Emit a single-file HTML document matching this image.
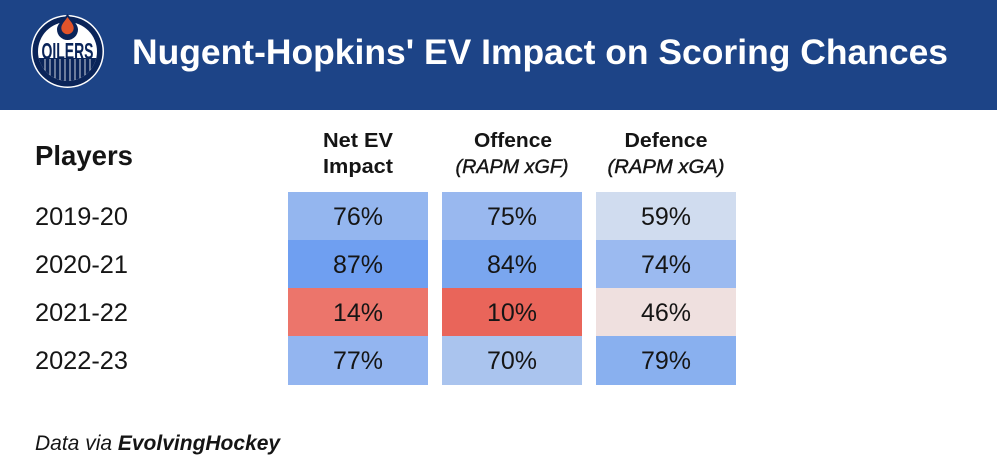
<!DOCTYPE html>
<html>
<head>
<meta charset="utf-8">
<style>
  html,body{margin:0;padding:0;background:#fff;}
  body{width:997px;height:473px;overflow:hidden;}
  svg{display:block;}
  text{font-family:"Liberation Sans",sans-serif;}
</style>
</head>
<body>
<svg width="997" height="473" viewBox="0 0 997 473" xmlns="http://www.w3.org/2000/svg">
  <rect x="0" y="0" width="997" height="473" fill="#ffffff"/>
  <!-- header band -->
  <rect x="0" y="0" width="997" height="110" fill="#1d4487"/>

  <!-- logo -->
  <defs>
    <clipPath id="inner"><circle cx="67.5" cy="51.5" r="29.5"/></clipPath>
  </defs>
  <circle cx="67.5" cy="51.5" r="36.5" fill="#ffffff"/>
  <circle cx="67.5" cy="51.5" r="35" fill="#0a2459"/>
  <circle cx="67.5" cy="51.5" r="29.5" fill="#ffffff"/>
  <g clip-path="url(#inner)">
    <rect x="30" y="58" width="80" height="40" fill="#0a2459"/>
    <g stroke="#ffffff" stroke-width="0.8">
      <line x1="45" y1="59" x2="45" y2="90"/>
      <line x1="50" y1="59" x2="50" y2="90"/>
      <line x1="55" y1="59" x2="55" y2="90"/>
      <line x1="60" y1="59" x2="60" y2="90"/>
      <line x1="65" y1="59" x2="65" y2="90"/>
      <line x1="70" y1="59" x2="70" y2="90"/>
      <line x1="75" y1="59" x2="75" y2="90"/>
      <line x1="80" y1="59" x2="80" y2="90"/>
      <line x1="85" y1="59" x2="85" y2="90"/>
      <line x1="90" y1="59" x2="90" y2="90"/>
    </g>
  </g>
  <!-- drop -->
  <path d="M67.5 14 C63 20 57 24 57 29.5 A10.5 10.5 0 0 0 78 29.5 C78 24 72 20 67.5 14 Z" fill="#0a2459"/>
  <path d="M67.5 17 C64.5 21.5 61.3 24.3 61.3 28 A6.2 6.2 0 0 0 73.7 28 C73.7 24.3 70.5 21.5 67.5 17 Z" fill="#e0532a"/>
  <text x="67.5" y="59" text-anchor="middle" font-size="23" font-weight="bold" fill="#0a2459" textLength="52" lengthAdjust="spacingAndGlyphs">OILERS</text>

  <!-- title -->
  <text x="132" y="64" font-size="35" font-weight="bold" fill="#ffffff" textLength="816" lengthAdjust="spacingAndGlyphs">Nugent-Hopkins' EV Impact on Scoring Chances</text>

  <!-- Players -->
  <text x="35" y="165" font-size="28" font-weight="bold" fill="#151515" textLength="98" lengthAdjust="spacingAndGlyphs">Players</text>

  <!-- column headers -->
  <g fill="#151515" text-anchor="middle" font-size="20">
    <text x="358" y="147" font-weight="bold" textLength="70" lengthAdjust="spacingAndGlyphs">Net EV</text>
    <text x="358" y="173" font-weight="bold" textLength="70" lengthAdjust="spacingAndGlyphs">Impact</text>
    <text x="513" y="147" font-weight="bold" textLength="78" lengthAdjust="spacingAndGlyphs">Offence</text>
    <text x="512" y="173" font-style="italic" stroke="#151515" stroke-width="0.4" font-size="19" textLength="113" lengthAdjust="spacingAndGlyphs">(RAPM xGF)</text>
    <text x="666" y="147" font-weight="bold" textLength="83" lengthAdjust="spacingAndGlyphs">Defence</text>
    <text x="666" y="173" font-style="italic" stroke="#151515" stroke-width="0.4" font-size="19" textLength="117" lengthAdjust="spacingAndGlyphs">(RAPM xGA)</text>
  </g>

  <!-- cells -->
  <rect x="288" y="192" width="140" height="48" fill="#94b6ef"/>
  <rect x="288" y="240" width="140" height="48" fill="#6f9ff1"/>
  <rect x="288" y="288" width="140" height="48" fill="#ec756b"/>
  <rect x="288" y="336" width="140" height="49" fill="#93b5f0"/>

  <rect x="442" y="192" width="140" height="48" fill="#99b8ef"/>
  <rect x="442" y="240" width="140" height="48" fill="#7aa6ef"/>
  <rect x="442" y="288" width="140" height="48" fill="#e9655a"/>
  <rect x="442" y="336" width="140" height="49" fill="#aac4ee"/>

  <rect x="596" y="192" width="140" height="48" fill="#d0dcef"/>
  <rect x="596" y="240" width="140" height="48" fill="#9bbaf0"/>
  <rect x="596" y="288" width="140" height="48" fill="#efe0df"/>
  <rect x="596" y="336" width="140" height="49" fill="#89b0ef"/>

  <!-- row labels -->
  <g fill="#151515" font-size="25">
    <text x="35" y="225" textLength="93" lengthAdjust="spacingAndGlyphs">2019-20</text>
    <text x="35" y="273" textLength="93" lengthAdjust="spacingAndGlyphs">2020-21</text>
    <text x="35" y="321" textLength="93" lengthAdjust="spacingAndGlyphs">2021-22</text>
    <text x="35" y="369" textLength="93" lengthAdjust="spacingAndGlyphs">2022-23</text>
  </g>

  <!-- values -->
  <g fill="#151515" font-size="25" text-anchor="middle">
    <text x="358" y="225">76%</text>
    <text x="358" y="273">87%</text>
    <text x="358" y="321">14%</text>
    <text x="358" y="369">77%</text>

    <text x="512" y="225">75%</text>
    <text x="512" y="273">84%</text>
    <text x="512" y="321">10%</text>
    <text x="512" y="369">70%</text>

    <text x="666" y="225">59%</text>
    <text x="666" y="273">74%</text>
    <text x="666" y="321">46%</text>
    <text x="666" y="369">79%</text>
  </g>

  <!-- footer -->
  <text x="35" y="450" font-size="21" fill="#151515" font-style="italic">Data via <tspan font-weight="bold">EvolvingHockey</tspan></text>
</svg>
</body>
</html>
